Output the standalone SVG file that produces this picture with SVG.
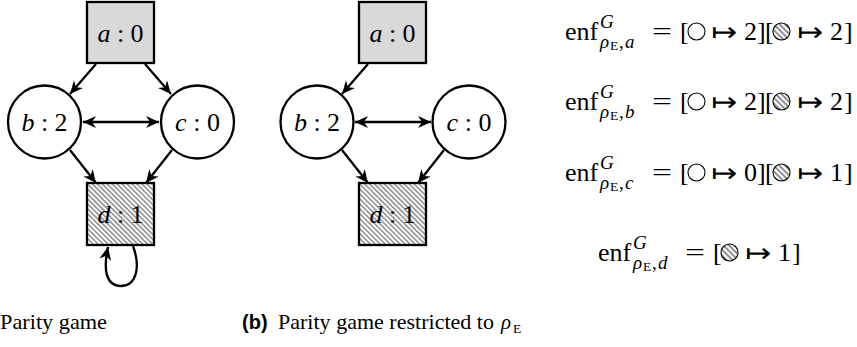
<svg xmlns="http://www.w3.org/2000/svg" width="857" height="347" viewBox="0 0 857 347">
<style>
.nd{stroke:#000;stroke-width:2.3}
.gray{fill:#d9d9d9}
.wht{fill:#fff}
.hat{fill:url(#hatch)}
.edge{fill:none;stroke:#000;stroke-width:2.3;marker-end:url(#arr)}
.both{marker-start:url(#arr)}
.sym{fill:none;stroke:#000;stroke-width:1.1}
.symh{fill:url(#hatch2);stroke:#000;stroke-width:1.1}
.serif{font-family:'Liberation Serif','DejaVu Serif',serif}
.lbl{font-size:26px;text-anchor:middle}
.eq{font-size:26px}
.sc{font-size:19px}
.ss{font-size:13.5px}
.it{font-style:italic}
.ar{font-family:'DejaVu Sans',sans-serif;font-size:26px}
</style>
<defs>
<pattern id="hatch" width="3.5" height="3.5" patternUnits="userSpaceOnUse" patternTransform="rotate(-45)">
<line x1="1.75" y1="0" x2="1.75" y2="3.5" stroke="#222" stroke-width="0.8"/>
</pattern>
<pattern id="hatch2" width="4" height="4" patternUnits="userSpaceOnUse" patternTransform="rotate(-45)">
<line x1="2" y1="0" x2="2" y2="4" stroke="#444" stroke-width="1.2"/>
</pattern>
<marker id="arr" markerUnits="userSpaceOnUse" markerWidth="16" markerHeight="14" refX="13" refY="7" orient="auto-start-reverse">
<path d="M13 7 L0 1 L4 7 L0 13 Z" fill="#000"/>
</marker>
</defs>

<!-- Panel (a) -->
<g id="connectors-a">
<path class="edge" d="M96 64 L70 94"/>
<path class="edge" d="M145 64 L171 94"/>
<path class="edge both" d="M83 122 L159 122"/>
<path class="edge" d="M70 150 L96 183"/>
<path class="edge" d="M172 150 L146 183"/>
<path class="edge" d="M133 246 C141 268 136 286 121 286 C106 286 103 270 108 247"/>
</g>
<g class="serif">
<g id="a-node-a">
<rect class="nd gray" x="87" y="2" width="67" height="61"/>
<text class="lbl" x="120.5" y="42"><tspan font-style="italic">a</tspan> : 0</text>
</g>
<g id="a-node-b">
<circle class="nd wht" cx="44.5" cy="122" r="36.5"/>
<text class="lbl" x="44.5" y="130.5"><tspan font-style="italic">b</tspan> : 2</text>
</g>
<g id="a-node-c">
<circle class="nd wht" cx="197.5" cy="122" r="36.5"/>
<text class="lbl" x="197.5" y="130.5"><tspan font-style="italic">c</tspan> : 0</text>
</g>
<g id="a-node-d">
<rect class="nd" fill="#fff" x="87" y="183" width="67" height="62"/>
<rect class="hat" x="88" y="184" width="65" height="60"/>
<text class="lbl" x="120.5" y="222.5"><tspan font-style="italic">d</tspan> : 1</text>
</g>
</g>

<!-- Panel (b) -->
<g id="connectors-b">
<path class="edge" d="M368 64 L342 94"/>
<path class="edge both" d="M355 122 L431 122"/>
<path class="edge" d="M342 150 L368 183"/>
<path class="edge" d="M444 150 L418 183"/>
</g>
<g class="serif">
<g id="b-node-a">
<rect class="nd gray" x="359" y="2" width="67" height="61"/>
<text class="lbl" x="392.5" y="42"><tspan font-style="italic">a</tspan> : 0</text>
</g>
<g id="b-node-b">
<circle class="nd wht" cx="317" cy="122" r="36.5"/>
<text class="lbl" x="317" y="130.5"><tspan font-style="italic">b</tspan> : 2</text>
</g>
<g id="b-node-c">
<circle class="nd wht" cx="469" cy="122" r="36.5"/>
<text class="lbl" x="469" y="130.5"><tspan font-style="italic">c</tspan> : 0</text>
</g>
<g id="b-node-d">
<rect class="nd" fill="#fff" x="359" y="183" width="67" height="62"/>
<rect class="hat" x="360" y="184" width="65" height="60"/>
<text class="lbl" x="392.5" y="222.5"><tspan font-style="italic">d</tspan> : 1</text>
</g>
</g>

<!-- Equations -->
<g id="eq-a" class="serif">
<text class="eq" x="565" y="40">enf</text>
<text class="sc it" x="600" y="28">G</text>
<text class="sc it" x="600" y="48">ρ</text>
<text class="ss" x="610" y="50">E</text>
<text class="sc" x="619" y="48">,</text>
<text class="sc it" x="625" y="48">a</text>
<text class="eq" x="652" y="40" textLength="20" lengthAdjust="spacingAndGlyphs">=</text>
<text class="eq" x="680" y="40">[</text>
<circle class="sym" cx="696.5" cy="31.5" r="8.5"/>
<text class="ar" x="711" y="41" textLength="26" lengthAdjust="spacingAndGlyphs">↦</text>
<text class="eq" x="744" y="40">2</text>
<text class="eq" x="757" y="40">]</text>
<text class="eq" x="765" y="40">[</text>
<circle class="symh" cx="781.5" cy="31.5" r="8.5"/>
<text class="ar" x="797" y="41" textLength="26" lengthAdjust="spacingAndGlyphs">↦</text>
<text class="eq" x="830" y="40">2</text>
<text class="eq" x="844" y="40">]</text>
</g>
<g id="eq-b" class="serif">
<text class="eq" x="565" y="110">enf</text>
<text class="sc it" x="600" y="98">G</text>
<text class="sc it" x="600" y="118">ρ</text>
<text class="ss" x="610" y="120">E</text>
<text class="sc" x="619" y="118">,</text>
<text class="sc it" x="625" y="118">b</text>
<text class="eq" x="652" y="110" textLength="20" lengthAdjust="spacingAndGlyphs">=</text>
<text class="eq" x="680" y="110">[</text>
<circle class="sym" cx="696.5" cy="101.5" r="8.5"/>
<text class="ar" x="711" y="111" textLength="26" lengthAdjust="spacingAndGlyphs">↦</text>
<text class="eq" x="744" y="110">2</text>
<text class="eq" x="757" y="110">]</text>
<text class="eq" x="765" y="110">[</text>
<circle class="symh" cx="781.5" cy="101.5" r="8.5"/>
<text class="ar" x="797" y="111" textLength="26" lengthAdjust="spacingAndGlyphs">↦</text>
<text class="eq" x="830" y="110">2</text>
<text class="eq" x="844" y="110">]</text>
</g>
<g id="eq-c" class="serif">
<text class="eq" x="565" y="181">enf</text>
<text class="sc it" x="600" y="169">G</text>
<text class="sc it" x="600" y="189">ρ</text>
<text class="ss" x="610" y="191">E</text>
<text class="sc" x="619" y="189">,</text>
<text class="sc it" x="625" y="189">c</text>
<text class="eq" x="652" y="181" textLength="20" lengthAdjust="spacingAndGlyphs">=</text>
<text class="eq" x="680" y="181">[</text>
<circle class="sym" cx="696.5" cy="172.5" r="8.5"/>
<text class="ar" x="711" y="182" textLength="26" lengthAdjust="spacingAndGlyphs">↦</text>
<text class="eq" x="744" y="181">0</text>
<text class="eq" x="757" y="181">]</text>
<text class="eq" x="765" y="181">[</text>
<circle class="symh" cx="781.5" cy="172.5" r="8.5"/>
<text class="ar" x="797" y="182" textLength="26" lengthAdjust="spacingAndGlyphs">↦</text>
<text class="eq" x="830" y="181">1</text>
<text class="eq" x="844" y="181">]</text>
</g>
<g id="eq-d" class="serif">
<text class="eq" x="598" y="261">enf</text>
<text class="sc it" x="633" y="249">G</text>
<text class="sc it" x="633" y="269">ρ</text>
<text class="ss" x="643" y="271">E</text>
<text class="sc" x="652" y="269">,</text>
<text class="sc it" x="658" y="269">d</text>
<text class="eq" x="685" y="261" textLength="20" lengthAdjust="spacingAndGlyphs">=</text>
<text class="eq" x="713" y="261">[</text>
<circle class="symh" cx="729.5" cy="252.5" r="8.5"/>
<text class="ar" x="745" y="262" textLength="26" lengthAdjust="spacingAndGlyphs">↦</text>
<text class="eq" x="778" y="261">1</text>
<text class="eq" x="792" y="261">]</text>
</g>

<!-- Captions -->
<g id="captions" class="serif" font-size="21">
<text x="0" y="329" textLength="107" lengthAdjust="spacingAndGlyphs">Parity game</text>
<text x="242" y="329" font-family="Liberation Sans, sans-serif" font-size="20" font-weight="bold">(b)</text>
<text x="278" y="329" textLength="216" lengthAdjust="spacingAndGlyphs">Parity game restricted to</text>
<text x="501" y="329" font-style="italic">ρ</text>
<text x="513" y="333" font-size="13.5">E</text>
</g>
</svg>
